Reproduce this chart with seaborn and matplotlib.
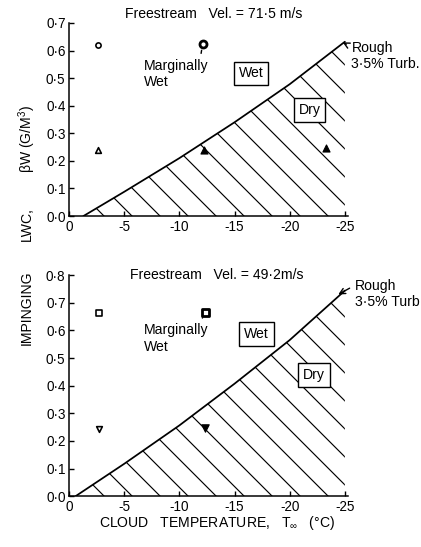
import numpy as np
import pandas as pd
import matplotlib
matplotlib.use('Agg')
import matplotlib.pyplot as plt
import seaborn as sns
from matplotlib.ticker import FuncFormatter

# ==========================================
# DADOS
# ==========================================

# fronteira molhado / seco (rough, 3.5% turb)
temp_linha_71 = [-1.3, -5, -10, -15, -20, -25]
lwc_linha_71 = [0.0, 0.088, 0.21, 0.34, 0.478, 0.632]

temp_linha_49 = [-0.6, -5, -10, -15, -20, -25]
lwc_linha_49 = [0.0, 0.117, 0.256, 0.407, 0.565, 0.744]

# pontos de ensaio - 71.5 m/s
temp_circ_71 = [-2.64, -12.1]
lwc_circ_71 = [0.62, 0.622]
temp_tri_71 = [-2.64]
lwc_tri_71 = [0.239]
temp_tri_cheio_71 = [-12.2, -23.3]
lwc_tri_cheio_71 = [0.24, 0.245]

# pontos de ensaio - 49.2 m/s
temp_quad_49 = [-2.76, -12.3]
lwc_quad_49 = [0.664, 0.665]
temp_tri_49 = [-2.76]
lwc_tri_49 = [0.243]
temp_tri_cheio_49 = [-12.3]
lwc_tri_cheio_49 = [0.245]

x_ticks = [0, -5, -10, -15, -20, -25]
y_ticks_71 = [0.0, 0.1, 0.2, 0.3, 0.4, 0.5, 0.6, 0.7]
y_ticks_49 = [0.0, 0.1, 0.2, 0.3, 0.4, 0.5, 0.6, 0.7, 0.8]

# ==========================================
# ESTILO
# ==========================================

sns.set_theme(style='ticks')
plt.rcParams['font.family'] = ['Liberation Sans', 'DejaVu Sans']
plt.rcParams['mathtext.fontset'] = 'custom'
plt.rcParams['mathtext.rm'] = 'Liberation Sans'
plt.rcParams['mathtext.it'] = 'Liberation Sans'
plt.rcParams['hatch.linewidth'] = 0.5
plt.rcParams['axes.linewidth'] = 0.65
plt.rcParams['text.color'] = 'black'
plt.rcParams['axes.edgecolor'] = 'black'

DPI = 168
fig = plt.figure(figsize=(421 / DPI, 547 / DPI), dpi=DPI)
fs = 6.0
fs_tick = 5.8

fmt_y = FuncFormatter(lambda v, p: f'{v:.1f}'.replace('.', '·'))
fmt_x = FuncFormatter(lambda v, p: f'{int(round(v))}')
caixa = dict(boxstyle='square,pad=0.35', fc='white', ec='black', lw=0.6)


def montar_eixo(ax, ytop, yticks):
    ax.set_xlim(0, -25.3)
    ax.set_ylim(0, ytop)
    ax.set_xticks(x_ticks)
    ax.set_yticks(yticks)
    ax.xaxis.set_major_formatter(fmt_x)
    ax.yaxis.set_major_formatter(fmt_y)
    ax.tick_params(direction='in', length=2.2, width=0.6, labelsize=fs_tick,
                   pad=1.5, colors='black')
    sns.despine(ax=ax)
    ax.set_xlabel('')
    ax.set_ylabel('')


def desenhar_fronteira(ax, tx, ly):
    df = pd.DataFrame({'temp': tx, 'lwc': ly})
    sns.lineplot(data=df, x='temp', y='lwc', ax=ax, color='black',
                 linewidth=0.75)
    ax.fill_between(df['temp'], 0, df['lwc'], facecolor='none',
                    edgecolor='black', hatch='\\\\', linewidth=0)


def pontos(ax, tx, ly, marker, s, face, lw):
    sns.scatterplot(x=tx, y=ly, ax=ax, marker=marker, s=s,
                    facecolor=face, edgecolor='black', linewidth=lw,
                    zorder=5)


# ==========================================
# GRAFICO SUPERIOR - 71.5 m/s
# ==========================================

ax1 = fig.add_axes([0.164, 0.605, 0.663, 0.353])
desenhar_fronteira(ax1, temp_linha_71, lwc_linha_71)
pontos(ax1, temp_circ_71[:1], lwc_circ_71[:1], 'o', 5, 'white', 0.7)
pontos(ax1, temp_circ_71[1:], lwc_circ_71[1:], 'o', 9, 'white', 1.2)
pontos(ax1, temp_tri_71, lwc_tri_71, '^', 6, 'white', 0.7)
pontos(ax1, temp_tri_cheio_71, lwc_tri_cheio_71, '^', 9, 'black', 0.5)
montar_eixo(ax1, 0.7, y_ticks_71)

ax1.annotate('Marginally\nWet', xy=(-12.1, 0.622), xytext=(-6.75, 0.571),
             fontsize=fs, ha='left', va='top', linespacing=1.25,
             arrowprops=dict(arrowstyle='-', lw=0.6, color='black',
                             shrinkA=0, shrinkB=2.5, relpos=(0.88, 1.0)))
ax1.text(-16.5, 0.517, 'Wet', fontsize=fs, ha='center', va='center',
         bbox=caixa)
ax1.text(-21.8, 0.384, 'Dry', fontsize=fs, ha='center', va='center',
         bbox=caixa)
ax1.annotate('Rough\n3·5% Turb.', xy=(-24.8, 0.63), xytext=(-25.6, 0.635),
             fontsize=fs, ha='left', va='top', linespacing=1.2,
             annotation_clip=False,
             arrowprops=dict(arrowstyle='->', lw=0.6, color='black',
                             shrinkA=0, shrinkB=0, relpos=(0.0, 0.8)))

# ==========================================
# GRAFICO INFERIOR - 49.2 m/s
# ==========================================

ax2 = fig.add_axes([0.164, 0.093, 0.663, 0.404])
desenhar_fronteira(ax2, temp_linha_49, lwc_linha_49)
pontos(ax2, temp_quad_49[:1], lwc_quad_49[:1], 's', 5, 'white', 0.7)
pontos(ax2, temp_quad_49[1:], lwc_quad_49[1:], 's', 9, 'white', 1.2)
pontos(ax2, temp_tri_49, lwc_tri_49, 'v', 6, 'white', 0.7)
pontos(ax2, temp_tri_cheio_49, lwc_tri_cheio_49, 'v', 10, 'black', 0.5)
montar_eixo(ax2, 0.8, y_ticks_49)

ax2.annotate('Marginally\nWet', xy=(-12.3, 0.665), xytext=(-6.75, 0.626),
             fontsize=fs, ha='left', va='top', linespacing=1.25,
             arrowprops=dict(arrowstyle='-', lw=0.6, color='black',
                             shrinkA=0, shrinkB=2.5, relpos=(0.88, 1.0)))
ax2.text(-17.0, 0.587, 'Wet', fontsize=fs, ha='center', va='center',
         bbox=caixa)
ax2.text(-22.2, 0.438, 'Dry', fontsize=fs, ha='center', va='center',
         bbox=caixa)
ax2.annotate('Rough\n3·5% Turb', xy=(-24.4, 0.73), xytext=(-25.9, 0.785),
             fontsize=fs, ha='left', va='top', linespacing=1.2,
             annotation_clip=False,
             arrowprops=dict(arrowstyle='->', lw=0.6, color='black',
                             shrinkA=0, shrinkB=0, relpos=(0.0, 0.8)))

# ==========================================
# TITULOS E ROTULOS
# ==========================================

fig.text(0.507, 0.974, 'Freestream   Vel. = 71·5 m/s', fontsize=fs,
         ha='center', va='center')
fig.text(0.515, 0.497, 'Freestream   Vel. = 49·2m/s', fontsize=fs,
         ha='center', va='center')

fig.text(0.064, 0.746, 'βW (G/M$^3$)', fontsize=fs, rotation=90,
         ha='center', va='center')
fig.text(0.064, 0.590, 'LWC,', fontsize=fs, rotation=90,
         ha='center', va='center')
fig.text(0.064, 0.437, 'IMPINGING', fontsize=fs, rotation=90,
         ha='center', va='center')

fig.text(0.515, 0.044, 'CLOUD   TEMPERATURE,   T$_{\\infty}$   (°C)',
         fontsize=fs, ha='center', va='center')

fig.savefig('out.png', dpi=DPI, facecolor='white')
